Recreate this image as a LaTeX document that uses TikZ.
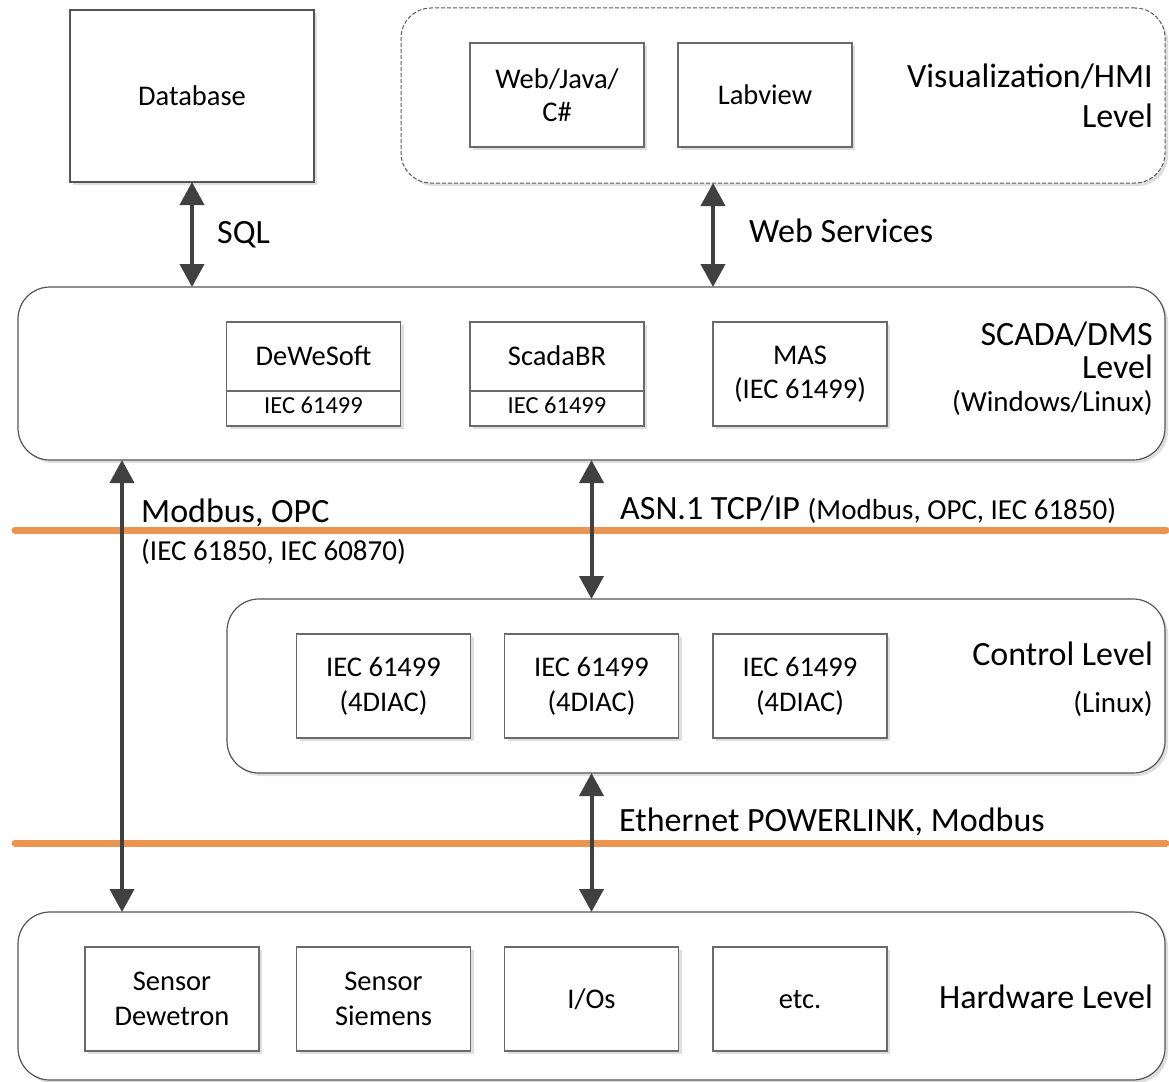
\documentclass[tikz,border=0pt]{standalone}
\usepackage{fontspec}
\setmainfont{Carlito}
\usetikzlibrary{arrows.meta,shadows}
\definecolor{arrowgray}{HTML}{404040}
\definecolor{framegray}{HTML}{555555}
\definecolor{boxgray}{HTML}{6A6A6A}
\definecolor{busorange}{HTML}{EC9550}
\begin{document}
\begin{tikzpicture}[x=1pt,y=-1pt,
  shade box/.style={drop shadow={shadow xshift=3pt,shadow yshift=-3pt,fill=black!13,opacity=1}},
  container/.style={draw=framegray,line width=1.2pt,rounded corners=32pt,fill=white,inner sep=0pt,outer sep=0pt,shade box},
  dashcontainer/.style={draw=black!65,line width=1pt,dash pattern=on 4pt off 2pt,rounded corners=30pt,fill=white,inner sep=0pt,outer sep=0pt,shade box},
  inbox/.style={draw=boxgray,line width=1.2pt,fill=white,inner sep=0pt,outer sep=0pt,minimum width=174pt,minimum height=104pt,align=center,font=\boxfont,shade box},
  oneline/.style={text height=18.5pt,text depth=0pt},
  biarrow/.style={draw=arrowgray,line width=4pt,{Triangle[width=24pt,length=23pt]}-{Triangle[width=24pt,length=23pt]}},
  bus/.style={draw=busorange,line width=7pt,line cap=round},
  biglab/.style={font=\bigfont,inner sep=0pt,anchor=base west},
  lvl/.style={font=\bigfont,inner sep=0pt,anchor=base east},
  lvlsmall/.style={font=\smallfont,inner sep=0pt,anchor=base east},
]
\newcommand{\boxfont}{\fontsize{28.5}{35}\selectfont}
\newcommand{\bigfont}{\fontsize{34}{40}\selectfont}
\newcommand{\smallfont}{\fontsize{29}{34}\selectfont}
\newcommand{\tinyfont}{\fontsize{24.5}{29}\selectfont}
\useasboundingbox (0,0) rectangle (1169,1081);

% containers
\node[container,minimum width=244pt,minimum height=172pt,rounded corners=0pt,font=\boxfont,oneline] (db) at (192,96) {Database};
\node[dashcontainer,minimum width=764pt,minimum height=175pt] (vis) at (783,95.5) {};
\node[container,minimum width=1147pt,minimum height=173pt] (scada) at (591.5,373.5) {};
\node[container,minimum width=938pt,minimum height=174pt] (ctrl) at (696,686) {};
\node[container,minimum width=1147pt,minimum height=168pt] (hw) at (591.5,996) {};

% visualization level
\node[inbox] (web) at (557,95) {Web/Java/\\[-2pt]C\#};
\node[inbox,oneline] (labview) at (765,95) {Labview};
\node[lvl] (vist1) at (1153,87) {Visualization/HMI};
\node[lvl] (vist2) at (1153,127) {Level};

% SCADA level
\node[inbox] (dws) at (313.5,374) {};
\draw[draw=boxgray,line width=1.2pt] (dws.west |- 0,391) -- (dws.east |- 0,391);
\node[font=\boxfont,inner sep=0pt,anchor=base] (dwst) at (313.5,365) {DeWeSoft};
\node[font=\tinyfont,inner sep=0pt,anchor=base] (dwsb) at (313.5,413) {IEC 61499};
\node[inbox] (sbr) at (557,374) {};
\draw[draw=boxgray,line width=1.2pt] (sbr.west |- 0,391) -- (sbr.east |- 0,391);
\node[font=\boxfont,inner sep=0pt,anchor=base] (sbrt) at (557,365) {ScadaBR};
\node[font=\tinyfont,inner sep=0pt,anchor=base] (sbrb) at (557,413) {IEC 61499};
\node[inbox] (mas) at (800,374) {MAS\\[-1pt](IEC 61499)};
\node[lvl] (sct1) at (1153,345) {SCADA/DMS};
\node[lvl] (sct2) at (1153,378) {Level};
\node[lvlsmall] (sct3) at (1153,411) {(Windows/Linux)};

% control level
\node[inbox] (c1) at (383.5,686) {IEC 61499\\(4DIAC)};
\node[inbox] (c2) at (591.5,686) {IEC 61499\\(4DIAC)};
\node[inbox] (c3) at (800,686) {IEC 61499\\(4DIAC)};
\node[lvl] (ct1) at (1153,665) {Control Level};
\node[lvlsmall] (ct2) at (1153,712) {(Linux)};

% hardware level
\node[inbox] (h1) at (172,999) {Sensor\\Dewetron};
\node[inbox] (h2) at (383.5,999) {Sensor\\Siemens};
\node[inbox,oneline] (h3) at (591.5,999) {I/Os};
\node[inbox,oneline] (h4) at (800,999) {etc.};
\node[lvl] (ht) at (1153,1008) {Hardware Level};

% bus lines
\draw[bus] (15,530) -- (1166,530);
\draw[bus] (15,843) -- (1166,843);

% connectors
\coordinate (wsx) at (713,0);
\coordinate (mbx) at (122,0);
\draw[biarrow] (db.south) -- (db.south |- scada.north);
\draw[biarrow] (vis.south -| wsx) -- (scada.north -| wsx);
\draw[biarrow] (scada.south -| mbx) -- (hw.north -| mbx);
\draw[biarrow] (scada.south -| c2) -- (ctrl.north -| c2);
\draw[biarrow] (ctrl.south -| c2) -- (hw.north -| c2);

% connector labels
\node[biglab] (sql) at (217,243) {SQL};
\node[biglab] (wsl) at (749,242) {Web Services};
\node[biglab] (mbl1) at (141,522) {Modbus, OPC};
\node[font=\smallfont,inner sep=0pt,anchor=base west] (mbl2) at (141,560) {(IEC 61850, IEC 60870)};
\node[biglab] (asl) at (620,519) {ASN.1 TCP/IP {\smallfont (Modbus, OPC, IEC 61850)}};
\node[biglab] (etl) at (619,831) {Ethernet POWERLINK, Modbus};
\end{tikzpicture}
\end{document}
